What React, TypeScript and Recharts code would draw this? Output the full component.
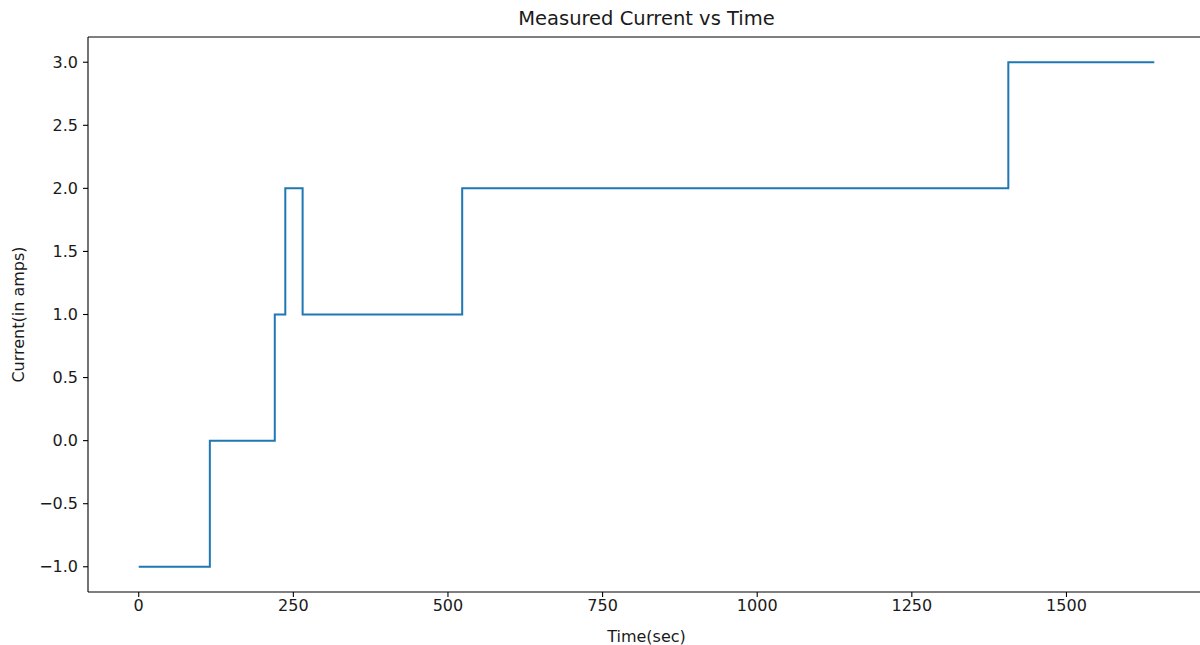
import React from "react";
import { LineChart, Line, XAxis, YAxis } from "recharts";

// change points of the measured current (step after)
const times = [0, 115, 220, 237, 265, 523, 1406, 1642];
const currents = [-1, 0, 1, 2, 1, 2, 3, 3];

const xTicks = [0, 250, 500, 750, 1000, 1250, 1500];
const yTicks = [-1, -0.5, 0, 0.5, 1, 1.5, 2, 2.5, 3];

const data = times.map((t, i) => ({ time: t, current: currents[i] }));

const font = "'DejaVu Sans', sans-serif";
const ink = "#1a1a1a";

const fmtY = (v: number) => {
  const s = Math.abs(v).toFixed(1);
  return v < 0 ? `\u2212${s}` : s;
};

export default function App() {
  return (
    <div
      style={{
        position: "absolute",
        left: 0,
        top: 0,
        width: 1200,
        height: 645,
        overflow: "hidden",
        background: "#fff",
        fontFamily: font,
      }}
    >
      <div
        style={{
          position: "absolute",
          left: 88,
          width: 1117,
          top: 8,
          textAlign: "center",
          fontSize: 19.5,
          lineHeight: "22px",
          color: ink,
        }}
      >
        Measured Current vs Time
      </div>
      <LineChart
        width={1220}
        height={645}
        data={data}
        margin={{ top: 0, right: 15, bottom: 0, left: 0 }}
      >
        <XAxis
          dataKey="time"
          type="number"
          domain={[-82, 1724]}
          ticks={xTicks}
          height={53}
          allowDataOverflow
          axisLine={{ stroke: "#000", strokeWidth: 1.1 }}
          tickLine={{ stroke: "#000", strokeWidth: 1.1 }}
          tickSize={5}
          tickMargin={3}
          tick={{ fill: ink, fontSize: 16, fontFamily: font }}
          label={{
            value: "Time(sec)",
            position: "insideBottom",
            offset: 3,
            style: { fill: ink, fontSize: 16, fontFamily: font },
          }}
        />
        <XAxis
          xAxisId="top"
          orientation="top"
          dataKey="time"
          type="number"
          domain={[-82, 1724]}
          height={37}
          tick={false}
          tickLine={false}
          axisLine={{ stroke: "#000", strokeWidth: 1.1 }}
        />
        <YAxis
          type="number"
          domain={[-1.2, 3.2]}
          ticks={yTicks}
          width={88}
          allowDataOverflow
          axisLine={{ stroke: "#000", strokeWidth: 1.1 }}
          tickLine={{ stroke: "#000", strokeWidth: 1.1 }}
          tickSize={5}
          tickMargin={5}
          tickFormatter={fmtY}
          tick={{ fill: ink, fontSize: 16, fontFamily: font }}
          label={{
            value: "Current(in amps)",
            angle: -90,
            position: "insideLeft",
            offset: 18,
            style: { fill: ink, fontSize: 16, fontFamily: font, textAnchor: "middle" },
          }}
        />
        <Line
          dataKey="current"
          type="stepAfter"
          stroke="#1f77b4"
          strokeWidth={2}
          dot={false}
          activeDot={false}
          isAnimationActive={false}
        />
      </LineChart>
    </div>
  );
}
